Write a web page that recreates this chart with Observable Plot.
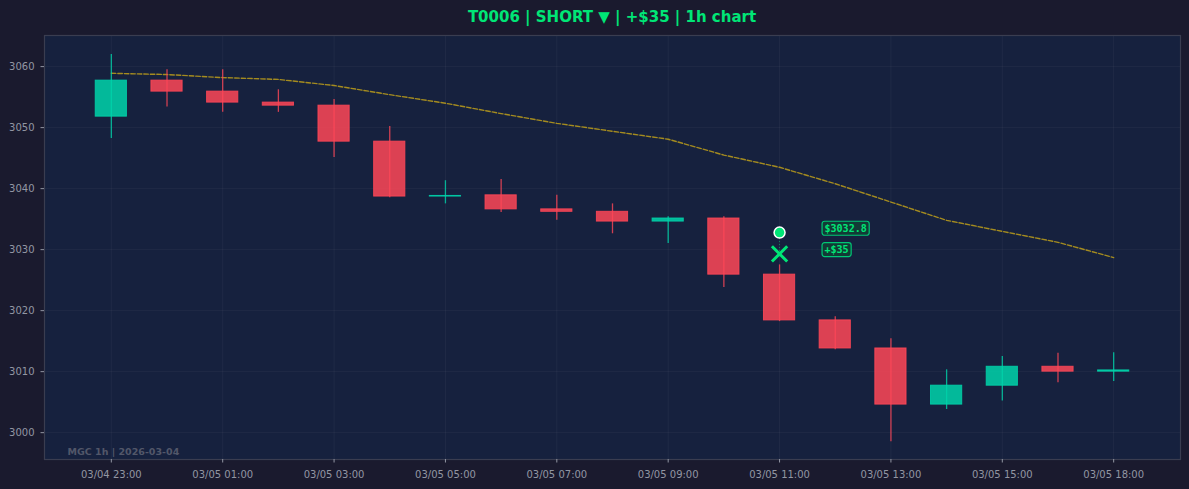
<!DOCTYPE html>
<html><head><meta charset="utf-8">
<script src="https://cdn.jsdelivr.net/npm/d3@7"></script>
<script src="https://cdn.jsdelivr.net/npm/@observablehq/plot@0.6"></script>
<style>
html,body{margin:0;padding:0;background:#1a1a2e;overflow:hidden;}
#title{height:34px;box-sizing:border-box;padding:0 9px 0 44px;text-align:center;color:#00e676;font:bold 15px "DejaVu Sans";line-height:35px;}
#chart svg{display:block;}
</style></head><body>
<div id="title">T0006 | SHORT ▼ | +$35 | 1h chart</div>
<div id="chart"></div>
<script>
const times = ["03/04 23:00","03/05 00:00","03/05 01:00","03/05 02:00","03/05 03:00","03/05 04:00","03/05 05:00","03/05 06:00","03/05 07:00","03/05 08:00","03/05 09:00","03/05 10:00","03/05 11:00","03/05 12:00","03/05 13:00","03/05 14:00","03/05 15:00","03/05 16:00","03/05 18:00"];
const open  = [3051.8,3057.7,3055.9,3054.1,3053.6,3047.7,3038.7,3038.9,3036.6,3036.2,3034.6,3035.1,3025.9,3018.4,3013.8,3004.6,3007.7,3010.8,3010.0];
const close = [3057.7,3055.9,3054.1,3053.6,3047.7,3038.7,3038.8,3036.6,3036.2,3034.6,3035.1,3025.9,3018.4,3013.8,3004.6,3007.7,3010.8,3010.0,3010.2];
const high  = [3062.0,3059.5,3059.5,3056.2,3054.6,3050.2,3041.3,3041.5,3038.9,3037.5,3035.4,3035.4,3027.5,3019.0,3015.4,3010.3,3012.5,3013.0,3013.1];
const low   = [3048.2,3053.4,3052.5,3052.5,3045.1,3038.5,3037.5,3036.1,3034.8,3032.6,3031.0,3023.8,3018.2,3013.6,2998.5,3003.8,3005.2,3008.2,3008.4];
const ma    = [3058.9,3058.7,3058.2,3057.9,3056.9,3055.4,3054.0,3052.3,3050.7,3049.4,3048.1,3045.5,3043.5,3040.8,3037.8,3034.8,3033.0,3031.2,3028.7];
const xTickIndex = [0,2,4,6,8,10,12,14,16,18];
const yTicks = [3000,3010,3020,3030,3040,3050,3060];
const tradeIndex = 12;
const entryPrice = 3032.8;
const exitPrice = 3029.3;
const entryLabel = "$3032.8";
const pnlLabel = "+$35";
const watermark = "MGC 1h | 2026-03-04";

const UP = "#00d4aa", DOWN = "#ff4757", MINT = "#00e676", AX = "#9296a3";
const candles = times.map((t, i) => ({i, t, open: open[i], close: close[i], high: high[i], low: low[i], ma: ma[i]}));
const col = d => d.close >= d.open ? UP : DOWN;
const bw = 0.28;

const chart = Plot.plot({
  width: 1189, height: 455,
  marginLeft: 44, marginRight: 9, marginTop: 1, marginBottom: 30,
  style: {background: "transparent", color: AX, fontFamily: "DejaVu Sans", fontSize: "10px"},
  x: {type: "linear", domain: [-1.2, 19.2]},
  y: {domain: [2995.6, 3065.1]},
  color: {type: "identity"},
  marks: [
    Plot.frame({fill: "#16213e"}),
    Plot.gridY(yTicks, {stroke: "#ffffff", strokeOpacity: 0.045}),
    Plot.gridX(xTickIndex, {stroke: "#ffffff", strokeOpacity: 0.045}),
    Plot.frame({stroke: "#3a3d50", strokeWidth: 1.2}),
    Plot.axisY(yTicks, {tickSize: 3.5, tickPadding: 6.5, tickFormat: d3.format("d"), stroke: AX, fill: AX, label: null}),
    Plot.axisX(xTickIndex, {tickSize: 3.5, tickPadding: 7.5, tickFormat: i => times[i], stroke: AX, fill: AX, label: null}),
    Plot.line(candles, {x: "i", y: "ma", stroke: "#f1c40f", strokeOpacity: 0.65, strokeWidth: 1.4, strokeDasharray: "4.5,2"}),
    Plot.ruleX(candles, {x: "i", y1: "low", y2: "high", stroke: col, strokeWidth: 1.3, strokeOpacity: 0.8}),
    Plot.rect(candles, {x1: d => d.i - bw, x2: d => d.i + bw, y1: "open", y2: "close", fill: col, fillOpacity: 0.85, stroke: col, strokeOpacity: 0.85, strokeWidth: 1}),
    Plot.ruleX([tradeIndex], {x: d => d, y1: [entryPrice], y2: [exitPrice], stroke: MINT, strokeOpacity: 0.5, strokeWidth: 1, strokeDasharray: "1,2"}),
    Plot.dot([entryPrice], {x: () => tradeIndex, y: d => d, r: 5.5, fill: MINT, stroke: "#ffffff", strokeWidth: 1.5}),
    Plot.dot([exitPrice], {x: () => tradeIndex, y: d => d, r: 7, symbol: "times", stroke: MINT, strokeWidth: 3}),
    Plot.text([{p: entryPrice, s: entryLabel}, {p: exitPrice, s: pnlLabel}], {x: () => tradeIndex, y: "p", text: "s", dx: 45, dy: -4, textAnchor: "start", fill: MINT, fontFamily: "DejaVu Sans Mono", fontWeight: "bold", fontSize: 10}),
    Plot.text([watermark], {frameAnchor: "bottom-left", dx: 23, dy: -5, fill: "#525769", fontWeight: "bold", fontSize: 9.5})
  ]
});
document.getElementById("chart").appendChild(chart);

const boxed = new Set([entryLabel, pnlLabel]);
d3.select(chart).selectAll("text").filter(function() { return boxed.has(this.textContent); }).each(function() {
  const b = this.getBBox();
  const r = document.createElementNS("http://www.w3.org/2000/svg", "rect");
  const tr = this.getAttribute("transform");
  if (tr) r.setAttribute("transform", tr);
  r.setAttribute("x", b.x - 2.5);
  r.setAttribute("y", b.y - 1.5);
  r.setAttribute("width", b.width + 5);
  r.setAttribute("height", b.height + 3);
  r.setAttribute("rx", 2.5);
  r.setAttribute("fill", "#123a36");
  r.setAttribute("stroke", "#00c774");
  r.setAttribute("stroke-width", 1.2);
  this.parentNode.insertBefore(r, this);
});
</script>
</body></html>
